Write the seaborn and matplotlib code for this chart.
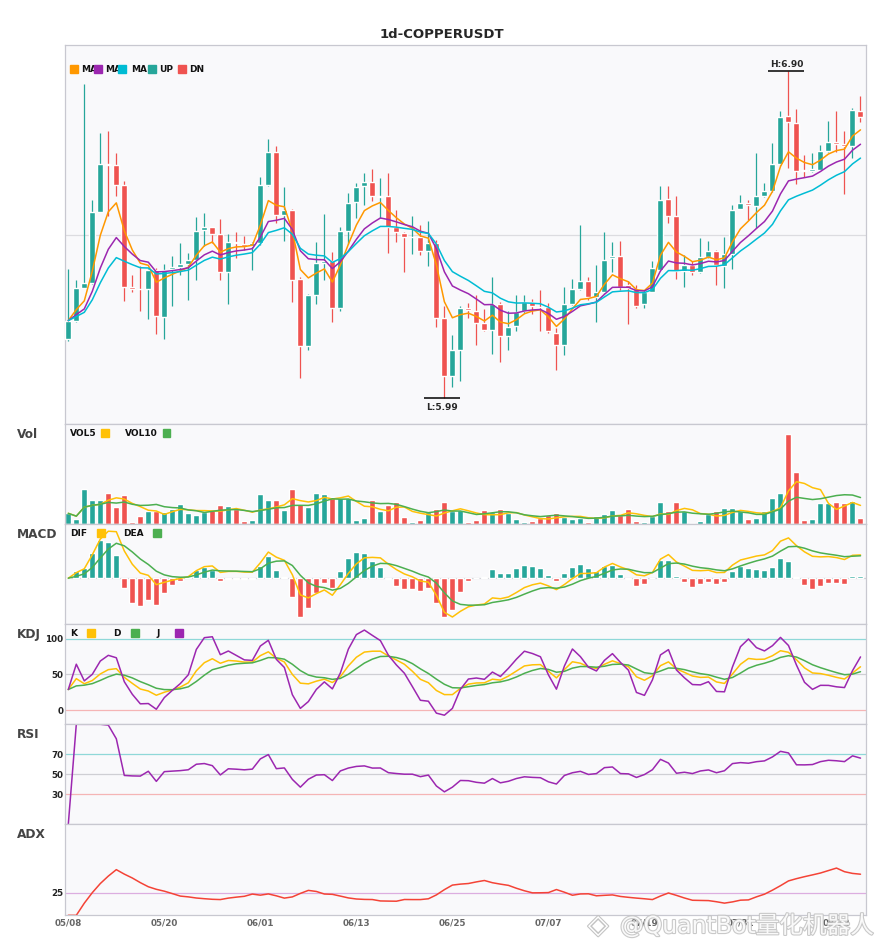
import numpy as np
import pandas as pd
import matplotlib
matplotlib.use("Agg")
import matplotlib.pyplot as plt
import matplotlib.patheffects as pe
import seaborn as sns
from matplotlib.patches import Rectangle

# --- data (daily candles, 05/08 onwards) ---
open_ = [6.156, 6.205, 6.298, 6.311, 6.509, 6.643, 6.640, 6.584, 6.299, 6.295,
         6.295, 6.348, 6.217, 6.350, 6.356, 6.364, 6.375, 6.457, 6.467, 6.446,
         6.340, 6.426, 6.420, 6.414, 6.423, 6.584, 6.677, 6.501, 6.515, 6.322,
         6.134, 6.278, 6.366, 6.373, 6.240, 6.456, 6.535, 6.580, 6.593, 6.549,
         6.554, 6.467, 6.451, 6.438, 6.440, 6.400, 6.423, 6.213, 6.053, 6.125,
         6.240, 6.233, 6.199, 6.180, 6.253, 6.164, 6.190, 6.234, 6.258, 6.245,
         6.244, 6.171, 6.139, 6.253, 6.295, 6.317, 6.273, 6.285, 6.379, 6.386,
         6.306, 6.294, 6.253, 6.287, 6.348, 6.545, 6.498, 6.343, 6.361, 6.340,
         6.383, 6.400, 6.357, 6.391, 6.518, 6.534, 6.524, 6.554, 6.568, 6.643,
         6.777, 6.757, 6.625, 6.623, 6.626, 6.679, 6.704, 6.699, 6.691, 6.791]
high = [6.350, 6.318, 6.866, 6.543, 6.729, 6.735, 6.674, 6.594, 6.334, 6.357,
        6.350, 6.352, 6.364, 6.387, 6.423, 6.395, 6.495, 6.506, 6.468, 6.490,
        6.446, 6.453, 6.443, 6.424, 6.605, 6.713, 6.693, 6.577, 6.518, 6.327,
        6.280, 6.426, 6.504, 6.398, 6.468, 6.562, 6.590, 6.618, 6.629, 6.604,
        6.618, 6.515, 6.452, 6.498, 6.473, 6.484, 6.431, 6.248, 6.166, 6.248,
        6.255, 6.278, 6.239, 6.327, 6.259, 6.234, 6.278, 6.278, 6.267, 6.290,
        6.256, 6.185, 6.299, 6.322, 6.473, 6.327, 6.361, 6.453, 6.426, 6.428,
        6.315, 6.306, 6.292, 6.373, 6.580, 6.580, 6.554, 6.389, 6.371, 6.436,
        6.428, 6.403, 6.440, 6.529, 6.557, 6.543, 6.673, 6.589, 6.701, 6.789,
        6.900, 6.796, 6.668, 6.674, 6.696, 6.761, 6.789, 6.733, 6.798, 6.832]
low = [6.148, 6.203, 6.296, 6.309, 6.508, 6.498, 6.552, 6.262, 6.287, 6.234,
       6.210, 6.169, 6.155, 6.248, 6.334, 6.264, 6.318, 6.414, 6.422, 6.320,
       6.251, 6.379, 6.402, 6.346, 6.417, 6.581, 6.479, 6.429, 6.259, 6.047,
       6.125, 6.253, 6.320, 6.201, 6.234, 6.420, 6.493, 6.529, 6.538, 6.493,
       6.393, 6.424, 6.340, 6.392, 6.389, 6.359, 6.187, 5.990, 6.021, 6.039,
       6.213, 6.139, 6.178, 6.114, 6.092, 6.123, 6.178, 6.227, 6.224, 6.176,
       6.172, 6.069, 6.109, 6.250, 6.290, 6.264, 6.203, 6.283, 6.340, 6.290,
       6.197, 6.241, 6.241, 6.285, 6.345, 6.479, 6.322, 6.301, 6.334, 6.338,
       6.381, 6.304, 6.298, 6.350, 6.516, 6.487, 6.464, 6.551, 6.565, 6.640,
       6.632, 6.587, 6.605, 6.621, 6.625, 6.677, 6.677, 6.559, 6.660, 6.758]
close = [6.206, 6.298, 6.310, 6.509, 6.643, 6.640, 6.584, 6.301, 6.295, 6.293,
         6.348, 6.219, 6.348, 6.356, 6.363, 6.375, 6.456, 6.467, 6.446, 6.340,
         6.426, 6.421, 6.414, 6.423, 6.584, 6.677, 6.501, 6.515, 6.320, 6.134,
         6.278, 6.366, 6.373, 6.240, 6.456, 6.534, 6.579, 6.593, 6.552, 6.554,
         6.468, 6.452, 6.440, 6.440, 6.399, 6.423, 6.212, 6.053, 6.125, 6.240,
         6.235, 6.199, 6.180, 6.253, 6.164, 6.188, 6.231, 6.258, 6.248, 6.243,
         6.176, 6.137, 6.253, 6.295, 6.317, 6.273, 6.285, 6.375, 6.386, 6.301,
         6.297, 6.248, 6.285, 6.352, 6.543, 6.496, 6.343, 6.361, 6.340, 6.383,
         6.400, 6.361, 6.391, 6.515, 6.534, 6.527, 6.554, 6.568, 6.643, 6.774,
         6.758, 6.623, 6.622, 6.628, 6.679, 6.704, 6.699, 6.691, 6.793, 6.772]
# volume in thousands
volume = [33, 16, 106, 73, 73, 94, 52, 88, 7, 25,
          40, 40, 37, 47, 61, 34, 28, 36, 42, 58,
          55, 46, 10, 13, 91, 73, 73, 43, 106, 61,
          53, 94, 91, 82, 78, 80, 13, 19, 73, 40,
          58, 67, 22, 7, 13, 37, 46, 67, 40, 43,
          7, 13, 43, 37, 46, 34, 16, 7, 10, 19,
          28, 34, 22, 16, 19, 7, 25, 31, 43, 28,
          46, 10, 7, 25, 67, 40, 67, 40, 4, 10,
          31, 40, 49, 49, 40, 16, 19, 40, 79, 94,
          271, 157, 13, 16, 64, 64, 67, 64, 70, 19]

start_date = "2025-05-08"
xtick_labels = ["05/08", "05/20", "06/01", "06/13", "06/25", "07/07", "07/19", "07/31", "08/12"]
ma_spans = [5, 10, 15]
macd_fast, macd_slow, macd_signal = 6, 13, 5
title = "1d-COPPERUSDT"

UP, DN = "#26a69a", "#ef5350"
MA_COLORS = ["#ff9800", "#9c27b0", "#00bcd4"]
YEL, GRN, PUR = "#ffc107", "#4caf50", "#9c27b0"
FACE = "#f9f9fb"
EDGE = "#c8c8d0"

df = pd.DataFrame({"open": open_, "high": high, "low": low, "close": close,
                   "volume": np.array(volume) * 1000.0})
n = len(df)
idx = np.arange(n)
dates = pd.date_range(start_date, periods=n, freq="D").strftime("%m/%d").tolist()

# --- indicators ---
c = df["close"]
mas = [c.ewm(span=s, adjust=False).mean() for s in ma_spans]
vol5 = df["volume"].rolling(5, min_periods=1).mean()
vol10 = df["volume"].rolling(10, min_periods=1).mean()

dif = c.ewm(span=macd_fast, adjust=False).mean() - c.ewm(span=macd_slow, adjust=False).mean()
dea = dif.ewm(span=macd_signal, adjust=False).mean()
hist = 2 * (dif - dea)

low9 = df["low"].rolling(9, min_periods=1).min()
high9 = df["high"].rolling(9, min_periods=1).max()
rsv = (c - low9) / (high9 - low9) * 100
k_line = rsv.ewm(com=2, adjust=False).mean()
d_line = k_line.ewm(com=2, adjust=False).mean()
j_line = 3 * k_line - 2 * d_line

delta = c.diff()
gain = delta.clip(lower=0).ewm(com=13, adjust=True).mean()
loss = (-delta.clip(upper=0)).ewm(com=13, adjust=True).mean()
rsi = (100 * gain / (gain + loss)).fillna(0)

up_move = df["high"].diff()
down_move = -df["low"].diff()
plus_dm = np.where((up_move > down_move) & (up_move > 0), up_move, 0.0)
minus_dm = np.where((down_move > up_move) & (down_move > 0), down_move, 0.0)
prev_c = c.shift(1)
tr = pd.concat([df["high"] - df["low"], (df["high"] - prev_c).abs(),
                (df["low"] - prev_c).abs()], axis=1).max(axis=1)
atr = tr.ewm(span=14, adjust=False).mean()
plus_di = 100 * pd.Series(plus_dm).ewm(span=14, adjust=False).mean() / atr
minus_di = 100 * pd.Series(minus_dm).ewm(span=14, adjust=False).mean() / atr
dx = (100 * (plus_di - minus_di).abs() / (plus_di + minus_di)).fillna(0)
adx = dx.ewm(span=14, adjust=False).mean()

# --- figure ---
sns.set_theme(style="white")
plt.rcParams["font.family"] = ["DejaVu Sans", "Noto Sans CJK SC"]
W, H = 885, 950
fig = plt.figure(figsize=(W / 100, H / 100), dpi=100)
fig.patch.set_facecolor("white")


def fx(x):
    return x / W


def fy(y):
    return 1 - y / H


left, right = 65.3, 865.7
panels = [(45.3, 424.3), (424.3, 524.3), (524.3, 624.3),
          (624.3, 724.3), (724.3, 824.3), (824.3, 915.3)]
axes = []
for top, bot in panels:
    ax = fig.add_axes([fx(left), fy(bot), (right - left) / W, (bot - top) / H],
                      sharex=axes[0] if axes else None)
    ax.set_facecolor(FACE)
    for sp in ax.spines.values():
        sp.set_color(EDGE)
        sp.set_linewidth(0.9)
    ax.tick_params(length=0, labelbottom=False, labelsize=6.3, pad=1.5)
    axes.append(ax)
ax_main, ax_vol, ax_macd, ax_kdj, ax_rsi, ax_adx = axes

colors = np.where(df["close"] >= df["open"], UP, DN)

# candles
ax_main.vlines(idx, df["low"], df["high"], colors=colors, lw=0.9, zorder=2)
body_bot = np.minimum(df["open"], df["close"])
body_h = np.maximum((df["close"] - df["open"]).abs(), 0.0012)
ax_main.bar(idx, body_h, bottom=body_bot, width=0.75, color=colors, zorder=3)
for ma, col in zip(mas, MA_COLORS):
    sns.lineplot(x=idx, y=ma.values, ax=ax_main, color=col, lw=1.1, legend=False, zorder=4)

hi_i, lo_i = int(df["high"].idxmax()), int(df["low"].idxmin())
hi_v, lo_v = df["high"].max(), df["low"].min()
rng = hi_v - lo_v
ax_main.set_ylim(lo_v - 0.08 * rng, hi_v + 0.08 * rng)
ax_main.set_yticks([(hi_v + lo_v) / 2])
ax_main.set_yticklabels([])
ax_main.grid(axis="y", color="#dcdce0", lw=0.9)
ax_main.hlines(hi_v, hi_i - 2.5, hi_i + 2, color="black", lw=1.1, zorder=5)
ax_main.annotate(f"H:{hi_v:.2f}", (hi_i - 0.25, hi_v), xytext=(0, 2), textcoords="offset points",
                 ha="center", va="bottom", fontsize=6.5, weight="bold")
ax_main.hlines(lo_v, lo_i - 2.5, lo_i + 2, color="black", lw=1.1, zorder=5)
ax_main.annotate(f"L:{lo_v:.2f}", (lo_i - 0.25, lo_v), xytext=(0, -3.2), textcoords="offset points",
                 ha="center", va="top", fontsize=6.5, weight="bold")

# volume
ax_vol.bar(idx, df["volume"], width=0.75, color=colors)
sns.lineplot(x=idx, y=vol5.values, ax=ax_vol, color=YEL, lw=1.1, legend=False)
sns.lineplot(x=idx, y=vol10.values, ax=ax_vol, color=GRN, lw=1.1, legend=False)
ax_vol.set_ylim(0, df["volume"].max() * 1.11)
ax_vol.set_yticks([])

# macd
ax_macd.axhline(0, color="#d0d0d4", lw=0.9, zorder=0)
ax_macd.bar(idx, hist, width=0.75, color=np.where(hist >= 0, UP, DN))
sns.lineplot(x=idx, y=dif.values, ax=ax_macd, color=YEL, lw=1.1, legend=False)
sns.lineplot(x=idx, y=dea.values, ax=ax_macd, color=GRN, lw=1.1, legend=False)
ax_macd.margins(y=0.08)
ax_macd.set_yticks([])

# kdj
for lvl, col in [(100, "#8fd8d8"), (50, "#cfcfd4"), (0, "#f5b5b5")]:
    ax_kdj.axhline(lvl, color=col, lw=0.9, zorder=0)
sns.lineplot(x=idx, y=k_line.values, ax=ax_kdj, color=YEL, lw=1.1, legend=False)
sns.lineplot(x=idx, y=d_line.values, ax=ax_kdj, color=GRN, lw=1.1, legend=False)
sns.lineplot(x=idx, y=j_line.values, ax=ax_kdj, color=PUR, lw=1.1, legend=False)
ax_kdj.set_ylim(-20, 120)
ax_kdj.set_yticks([0, 50, 100])

# rsi
for lvl, col in [(70, "#8fd8d8"), (50, "#cfcfd4"), (30, "#f5b5b5")]:
    ax_rsi.axhline(lvl, color=col, lw=0.9, zorder=0)
sns.lineplot(x=idx, y=rsi.values, ax=ax_rsi, color=PUR, lw=1.1, legend=False)
ax_rsi.set_ylim(0, 100)
ax_rsi.set_yticks([30, 50, 70])

# adx
ax_adx.axhline(25, color="#dcaee0", lw=0.9, zorder=0)
sns.lineplot(x=idx, y=adx.values, ax=ax_adx, color="#f44336", lw=1.1, legend=False)
ax_adx.set_ylim(0, 100)
ax_adx.set_yticks([25])

for ax in axes:
    for lab in ax.get_yticklabels():
        lab.set_fontweight("bold")
        lab.set_color("#222222")
    ax.set_xlabel("")
    ax.set_ylabel("")

ax_main.set_xlim(-0.375, n - 0.35)
ax_adx.set_xticks([dates.index(t) for t in xtick_labels])
ax_adx.set_xticklabels(xtick_labels)
ax_adx.tick_params(axis="x", labelbottom=True, pad=2.5, labelsize=6.3, colors="#666666")
for lab in ax_adx.get_xticklabels():
    lab.set_fontweight("bold")

# panel names
for (top, _), name in zip(panels[1:], ["Vol", "MACD", "KDJ", "RSI", "ADX"]):
    fig.text(fx(17), fy(top + 10.5), name, ha="left", va="center",
             fontsize=8.7, weight="bold", color="#444444")

fig.text(fx(442), fy(34), title, ha="center", va="center", fontsize=9.5, weight="bold")


def key(items, y_text, y_sq):
    # items: (label, text_x, square_x, color)
    for label, tx, sx, col in items:
        fig.text(fx(tx), fy(y_text), label, ha="left", va="center",
                 fontsize=6.5, weight="bold", color="#111111")
        fig.add_artist(Rectangle((fx(sx), fy(y_sq + 3.75)), 7.5 / W, 7.5 / H,
                                 transform=fig.transFigure, color=col, zorder=6))


key([("MA", 81, 70, MA_COLORS[0]), ("MA", 105, 94.3, MA_COLORS[1]),
     ("MA", 131, 118.3, MA_COLORS[2]), ("UP", 159, 148.3, UP), ("DN", 189, 178.3, DN)], 69, 69)
key([("VOL5", 70, 101, YEL), ("VOL10", 125, 162.7, GRN)], 434, 432.9)
key([("DIF", 70, 97.3, YEL), ("DEA", 123.3, 153.3, GRN)], 533.5, 533)
key([("K", 70, 87.3, YEL), ("D", 113.3, 131, GRN), ("J", 156, 175, PUR)], 634, 633.2)

# watermark (outlined light text over the bottom-right corner)
outline = [pe.withStroke(linewidth=1.6, foreground="#c4c4c4")]
fig.text(fx(588), fy(926), "◈", ha="left", va="center", fontsize=19, color="white",
         zorder=10, path_effects=outline)
fig.text(fx(620), fy(926), "@QuantBot量化机器人", ha="left", va="center", fontsize=17,
         color="white", alpha=0.9, zorder=10, path_effects=outline,
         family=["DejaVu Sans", "Noto Sans CJK SC"])

fig.savefig("out.png", dpi=100, facecolor="white")
